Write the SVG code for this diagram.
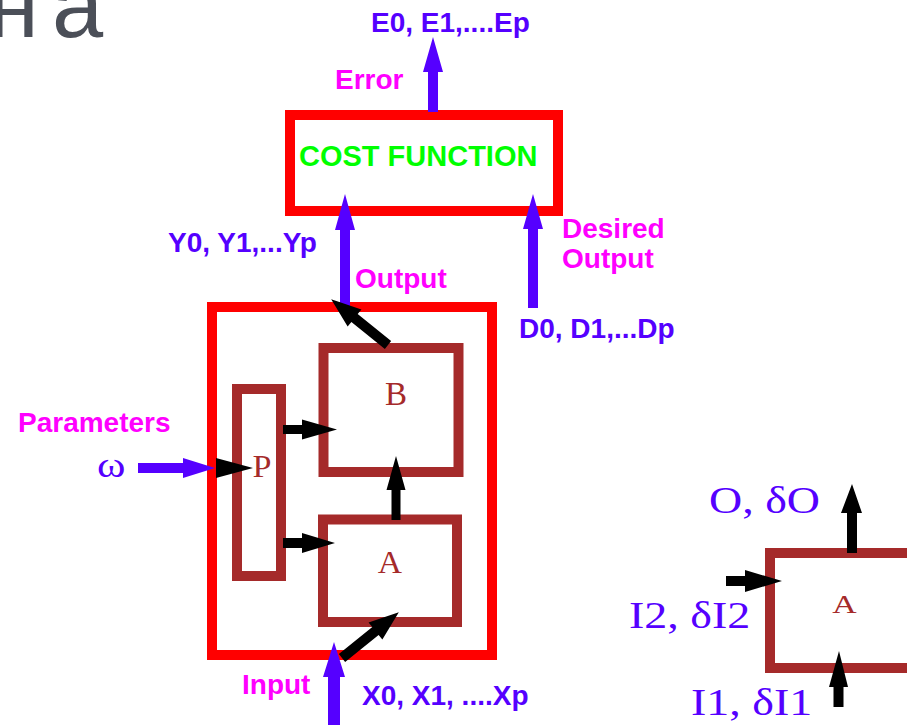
<svg xmlns="http://www.w3.org/2000/svg" width="907" height="725" viewBox="0 0 907 725">
<style>
.lbl{font-family:"Liberation Sans",Arial,sans-serif;font-weight:bold;font-size:28px}
.ser{font-family:"Liberation Serif","Times New Roman",serif}
.blue{fill:#5500ff}
.mag{fill:#ff00ff}
.brt{fill:#a52a2a}
.red{fill:none;stroke:#ff0000;stroke-width:10}
.brown{fill:none;stroke:#a52a2a;stroke-width:10}
.ab{fill:#5500ff}
.ak{fill:#000000}
</style>
<rect width="907" height="725" fill="#ffffff"/>
<text x="-12 52" y="37" font-family="'Liberation Sans',Arial,sans-serif" font-size="92" fill="#4b4f58">на</text>

<g id="cost-function">
<rect class="red" x="290" y="115" width="268" height="96"/>
<text class="lbl" x="299" y="166" fill="#00ff00" style="font-size:29px">COST FUNCTION</text>
</g>
<g id="system">
<rect class="red" x="212" y="307" width="280" height="348"/>
</g>
<g id="block-B">
<rect class="brown" x="323.5" y="348" width="135" height="124"/>
<text class="ser brt" font-size="33" text-anchor="middle" x="396" y="405">B</text>
</g>
<g id="block-A">
<rect class="brown" x="323" y="519.5" width="134" height="102.5"/>
<text class="ser brt" font-size="32" text-anchor="middle" transform="translate(390,573) scale(1.05,1)">A</text>
</g>
<g id="block-P">
<rect class="brown" x="237" y="389" width="44" height="187"/>
<text class="ser brt" font-size="31" text-anchor="middle" transform="translate(262,477) scale(1.1,1)">P</text>
</g>
<g id="module-A">
<rect class="brown" x="770" y="553" width="200" height="115"/>
<text class="ser brt" font-size="25" text-anchor="middle" transform="translate(844.5,613) scale(1.35,1)">A</text>
</g>

<g id="connectors">
<polygon class="ab" points="428,112 428,72 423,72 433,37 443,72 438,72 438,112"/>
<polygon class="ab" points="340,306 340,230 335,230 345,194 355,230 350,230 350,306"/>
<polygon class="ab" points="528,308 528,229 523,229 533,194 543,229 538,229 538,308"/>
<polygon class="ab" points="328,730 328,677 323,677 334,642 345,677 340,677 340,730"/>
<polygon class="ab" points="138,463 183,463 183,458 215,468 183,478 183,473 138,473"/>
<polygon class="ak" points="216,458 253,468 216,478"/>
<polygon class="ak" points="283,425 302,425 302,419.5 337,429.5 302,439.5 302,434 283,434"/>
<polygon class="ak" points="283,538 302,538 302,533 335,543 302,553 302,548 283,548"/>
<polygon class="ak" points="391.5,520 391.5,490 386.5,490 396,456 405.5,490 400.5,490 400.5,520"/>
<polygon class="ak" points="0,-5 43,-5 43,-11 73,0 43,11 43,5 0,5" transform="translate(388,345) rotate(-141.1)"/>
<polygon class="ak" points="0,-5 43,-5 43,-11 73,0 43,11 43,5 0,5" transform="translate(342,658) rotate(-38.9)"/>
<polygon class="ak" points="847,553 847,513 841,513 852,484 862,513 857,513 857,553"/>
<polygon class="ak" points="726,576 745,576 745,570 782,581 745,592 745,586 726,586"/>
<polygon class="ak" points="833.5,707 833.5,687 829,687 839,651 848,687 843.5,687 843.5,707"/>
</g>

<g id="labels">
<text class="lbl blue" x="371" y="32">E0, E1,....Ep</text>
<text class="lbl mag" x="335" y="89">Error</text>
<text class="lbl blue" x="168" y="252">Y0, Y1,...Yp</text>
<text class="lbl mag" x="355" y="288">Output</text>
<text class="lbl mag" x="562" y="238">Desired</text>
<text class="lbl mag" x="562" y="268">Output</text>
<text class="lbl blue" x="519" y="338">D0, D1,...Dp</text>
<text class="lbl mag" x="18" y="432">Parameters</text>
<text class="ser blue" font-size="36" transform="translate(97,477) scale(1.2,1)">ω</text>
<text class="lbl mag" x="242" y="694">Input</text>
<text class="lbl blue" x="362" y="705">X0, X1, ....Xp</text>
<text class="ser blue" font-size="38" transform="translate(709,513) scale(1.21,1)">O, δO</text>
<text class="ser blue" font-size="38" transform="translate(629,628) scale(1.21,1)">I2, δI2</text>
<text class="ser blue" font-size="38" transform="translate(691,715) scale(1.21,1)">I1, δI1</text>
</g>
</svg>
